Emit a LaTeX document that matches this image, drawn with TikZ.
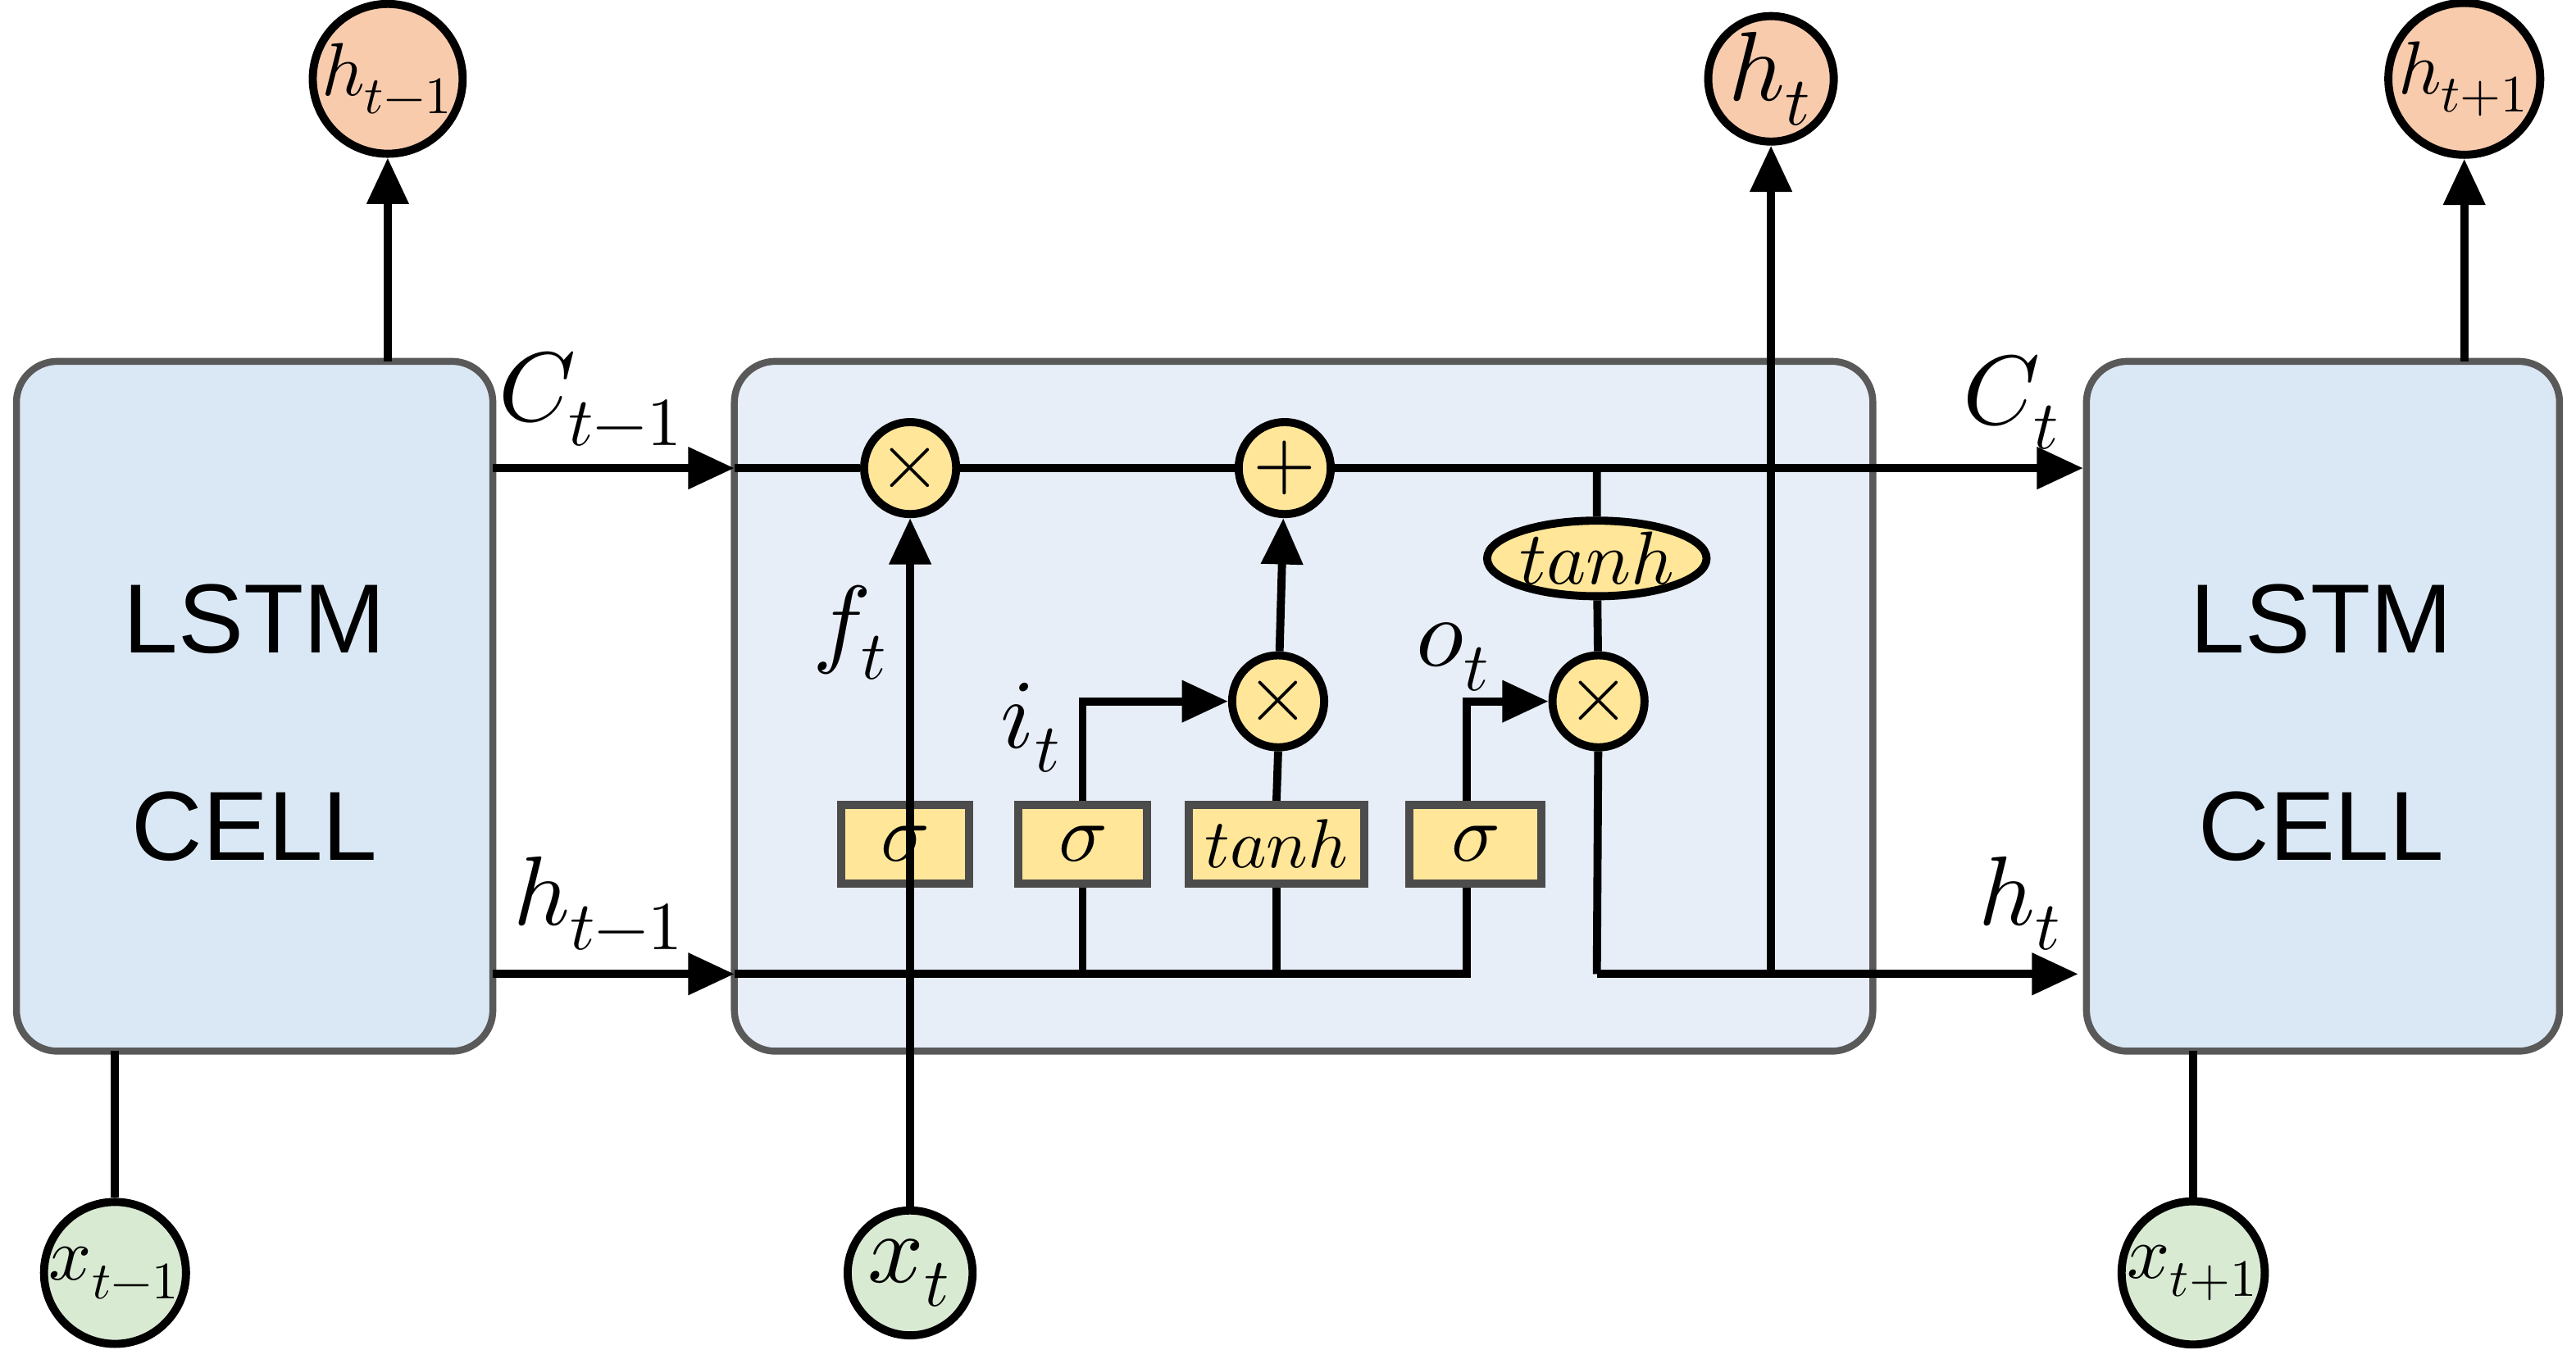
\documentclass[tikz,border=0pt]{standalone}
\usepackage{fontspec}
\setmainfont{Liberation Sans}
\usepackage{unicode-math}
\setmathfont{Latin Modern Math}
\usetikzlibrary{arrows.meta,shapes.geometric}
\definecolor{cellb}{HTML}{DAE8F5}
\definecolor{midb}{HTML}{E8EEF8}
\definecolor{hout}{HTML}{F8CBAD}
\definecolor{xin}{HTML}{D9EAD3}
\definecolor{gate}{HTML}{FFE699}
\begin{document}
\begin{tikzpicture}[x=0.01cm,y=-0.01cm,
  line width=1.4pt,
  >={Triangle[length=8pt,width=7pt]},
  cell/.style={draw=black!65,line width=1.2pt,rounded corners=0.25cm,fill=cellb},
  hc/.style={circle,draw,fill=hout,minimum size=0.76cm,inner sep=0pt,font=\fontsize{13}{13}\selectfont},
  xc/.style={circle,draw,fill=xin,minimum size=0.76cm,inner sep=0pt,font=\fontsize{13}{13}\selectfont},
  op/.style={circle,draw,fill=gate,minimum size=0.56cm,inner sep=0pt,font=\fontsize{14}{14}\selectfont},
  gbox/.style={draw=black!70,fill=gate,minimum height=0.48cm,inner sep=0pt,font=\fontsize{14}{14}\selectfont},
  lab/.style={font=\fontsize{17}{17}\selectfont},
  big/.style={font=\fontsize{17}{30}\selectfont,align=center}]
\useasboundingbox (0,0) rectangle (1568,827);
\draw[cell] (10,220) rectangle (300,640);
\draw[cell] (1270,220) rectangle (1558,640);
\draw[cell,fill=midb] (447,220) rectangle (1140,640);
\node[big] (l1) at (155,440) {LSTM\\[6pt]CELL};
\node[big] (l2) at (1413,440) {LSTM\\[6pt]CELL};
% io circles
\node[hc] (hp) at (236,48) {$h_{t-1}$};
\node[hc,font=\fontsize{17}{17}\selectfont] (ht) at (1078,48) {$h_t$};
\node[hc] (hn) at (1500,48) {$h_{t+1}$};
\node[xc] (xp) at (70,775) {$x_{t-1}$};
\node[xc,font=\fontsize{17}{17}\selectfont] (xt) at (554,775) {$x_t$};
\node[xc] (xn) at (1335,775) {$x_{t+1}$};
\coordinate (hpb) at (236,220); \coordinate (hnb) at (1500,220);
\coordinate (xpb) at (70,640); \coordinate (xnb) at (1335,640);
\draw[->] (hpb) -- (hp); \draw[->] (hnb) -- (hn);
\draw (xp) -- (xpb); \draw (xn) -- (xnb);
% operators
\node[op] (m1) at (554,285) {$\boldsymbol{\times}$};
\node[op] (pl) at (782,285) {$\boldsymbol{+}$};
\node[op] (m2) at (778,427) {$\boldsymbol{\times}$};
\node[op] (m3) at (973,427) {$\boldsymbol{\times}$};
\node[ellipse,draw,fill=gate,minimum width=1.1cm,minimum height=0.46cm,inner sep=0pt,font=\fontsize{13}{13}\selectfont] (th2) at (972,340) {$tanh$};
\node[gbox,minimum width=0.78cm] (sf) at (551,514) {$\sigma$};
\node[gbox,minimum width=0.78cm] (si) at (659,514) {$\sigma$};
\node[gbox,minimum width=1.07cm,font=\fontsize{12}{12}\selectfont] (tg) at (777,514) {$tanh$};
\node[gbox,minimum width=0.8cm] (so) at (898,514) {$\sigma$};
% coordinates
\coordinate (c0) at (300,285); \coordinate (c1) at (447,285);
\coordinate (cE) at (1268,285);
\coordinate (h0) at (300,593); \coordinate (h1) at (447,593);
\coordinate (hO) at (893,593); \coordinate (hE) at (1265,593);
\coordinate (cT) at (972,285); \coordinate (hm) at (972,593); \coordinate (hJ) at (1078,593);
\coordinate (xtop) at (554,297);
% C line
\draw[->] (c0) -- (c1);
\draw (c1) -- (m1) -- (pl);
\draw[->] (pl) -- (cE);
% h line
\draw[->] (h0) -- (h1);
\draw (h1) -- (hO) -- (hO |- so.south);
\draw[->] (so.north -| hO) |- (m3.west);
\draw (si.south) -- (si |- h1); \draw[->] (si.north) |- (m2.west);
\draw (tg.south) -- (tg |- h1); \draw (tg.north) -- (m2.south);
\draw[->] (m2) -- (pl);
\draw[->] (xt) -- (m1);
\draw (cT) -- (th2) -- (m3) -- (hm);
\draw[->] (hm) -- (hE);
\draw[->] (hJ) -- (ht);
% labels
\node[lab] (lc1) at (360,243) {$C_{t-1}$};
\node[lab] (lc2) at (1225,245) {$C_t$};
\node[lab] (lh1) at (365,550) {$h_{t-1}$};
\node[lab] (lh2) at (1230,550) {$h_t$};
\node[lab] (lf) at (518,385) {$f_t$};
\node[lab] (li) at (628,443) {$i_t$};
\node[lab] (lo) at (885,400) {$o_t$};
\end{tikzpicture}
\end{document}
